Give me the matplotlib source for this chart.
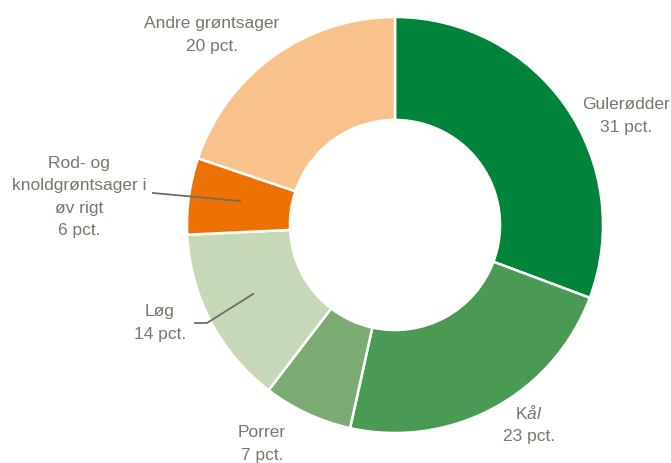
import matplotlib
matplotlib.use("Agg")
import matplotlib.pyplot as plt

# data
labels = ["Gulerødder", "K$\\mathit{ål}$", "Porrer", "Løg",
          "Rod- og\nknoldgrøntsager i\nøv rigt", "Andre grøntsager"]
values = [31, 23, 7, 14, 6, 20]
colors = ["#00843C", "#4A9A55", "#7BAB72", "#C7D8B8", "#EE7203", "#F9C28C"]

W, H = 671, 463
CX, CY, R = 395, 225, 208
TXT = "#77776A"

plt.rcParams['font.family'] = ['Liberation Sans', 'DejaVu Sans']
plt.rcParams['mathtext.fontset'] = 'custom'
plt.rcParams['mathtext.it'] = 'Liberation Sans:italic'
plt.rcParams['mathtext.rm'] = 'Liberation Sans'

fig = plt.figure(figsize=(W / 100, H / 100), dpi=100)
ax = fig.add_axes([0, 0, 1, 1])

ax.pie(values, colors=colors, startangle=90, counterclock=False, radius=1,
       wedgeprops=dict(width=0.495, edgecolor="white", linewidth=1.8))
ax.set_xlim(-CX / R, (W - CX) / R)
ax.set_ylim(-(H - CY) / R, CY / R)
ax.set_aspect("equal")
ax.axis("off")


def px(x, y):
    # pixel position -> data coords
    return (x - CX) / R, (CY - y) / R


label_pos = [(626, 116), (529, 424), (262, 444), (160, 323), (79, 197), (212, 35)]
for lab, v, (x, y) in zip(labels, values, label_pos):
    ax.text(*px(x, y), f"{lab}\n{v} pct.", ha="center", va="center",
            fontsize=12.5, color=TXT, linespacing=1.62)

# leader lines
lx, ly = zip(px(153, 193), px(240, 201))
ax.plot(lx, ly, color="#6E6E60", lw=1.3)
lx, ly = zip(px(195, 323), px(207, 323), px(253, 294))
ax.plot(lx, ly, color="#6E6E60", lw=1.3)

fig.savefig("out.png", dpi=100)
